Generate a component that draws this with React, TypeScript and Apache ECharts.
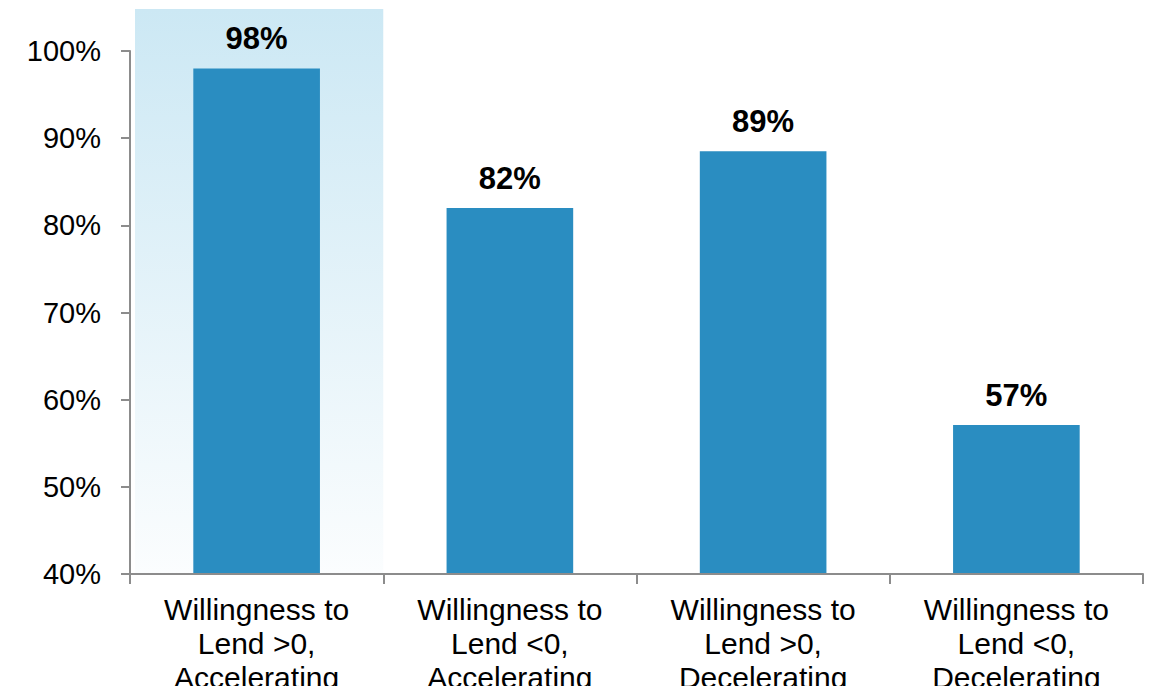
import React, { useEffect, useRef } from "react";
import * as echarts from "echarts";

const categories = [
  "Willingness to\nLend >0,\nAccelerating",
  "Willingness to\nLend <0,\nAccelerating",
  "Willingness to\nLend >0,\nDecelerating",
  "Willingness to\nLend <0,\nDecelerating",
];
const values = [98, 82, 88.5, 57.1];
const valueLabels = ["98%", "82%", "89%", "57%"];
const yMin = 40;
const yMax = 100;
const yStep = 10;
const highlightIndex = 0;

const FONT = "'Liberation Sans', Arial, sans-serif";

export default function App() {
  const ref = useRef<HTMLDivElement>(null);
  useEffect(() => {
    if (!ref.current) return;
    const chart = echarts.init(ref.current, undefined, { renderer: "svg" });
    chart.setOption({
      animation: false,
      backgroundColor: "#ffffff",
      grid: { left: 130, right: 10, top: 51, bottom: 117, containLabel: false },
      xAxis: {
        type: "category",
        data: categories,
        axisLine: { lineStyle: { color: "#8c8c8c", width: 2 } },
        axisTick: { show: true, length: 10, lineStyle: { color: "#8c8c8c", width: 2 } },
        axisLabel: {
          color: "#000",
          fontFamily: FONT,
          fontSize: 30,
          lineHeight: 34,
          margin: 18,
          interval: 0,
        },
        z: 5,
      },
      yAxis: {
        type: "value",
        min: yMin,
        max: yMax,
        interval: yStep,
        axisLine: { show: true, lineStyle: { color: "#8c8c8c", width: 2 } },
        axisTick: { show: true, length: 9, lineStyle: { color: "#8c8c8c", width: 2 } },
        splitLine: { show: false },
        axisLabel: {
          color: "#000",
          fontFamily: FONT,
          fontSize: 29,
          margin: 29,
          formatter: (v: number) => `${v}%`,
        },
        z: 5,
      },
      series: [
        {
          type: "bar",
          data: values,
          barWidth: "50%",
          itemStyle: { color: "#2a8dc1" },
          z: 3,
          label: {
            show: true,
            position: "top",
            distance: 14,
            color: "#000",
            fontFamily: FONT,
            fontWeight: "bold",
            fontSize: 31,
            formatter: (p: any) => valueLabels[p.dataIndex],
          },
        },
      ],
    });

    const c0 = chart.convertToPixel({ xAxisIndex: 0 }, categories[highlightIndex]) as number;
    const c1 = chart.convertToPixel({ xAxisIndex: 0 }, categories[highlightIndex + 1]) as number;
    const band = c1 - c0;
    const yBottom = chart.convertToPixel({ yAxisIndex: 0 }, yMin) as number;
    const left = c0 - band / 2 + 5;
    const top = 9;
    chart.setOption({
      graphic: [
        {
          type: "rect",
          z: -1,
          zlevel: 0,
          silent: true,
          shape: { x: left, y: top, width: band - 5, height: yBottom - top },
          style: {
            fill: new echarts.graphic.LinearGradient(0, 0, 0, 1, [
              { offset: 0, color: "#cce8f4" },
              { offset: 1, color: "#fbfdfe" },
            ]),
          },
        },
      ],
    });

    return () => chart.dispose();
  }, []);
  return <div ref={ref} style={{ width: 1153, height: 694, margin: -8 }} />;
}
